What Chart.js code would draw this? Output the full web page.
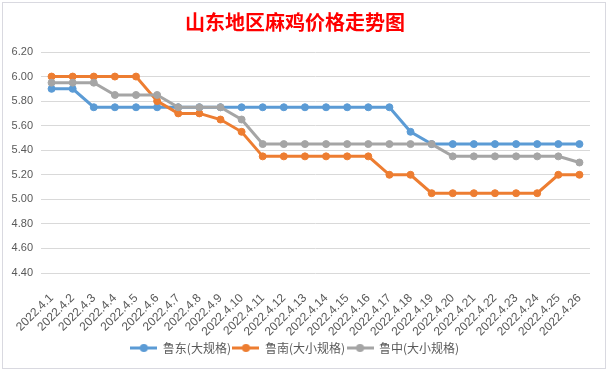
<!DOCTYPE html>
<html>
<head>
<meta charset="utf-8">
<script src="https://cdn.jsdelivr.net/npm/chart.js@4/dist/chart.umd.min.js"></script>
<style>
	body { margin: 0; background: #fff; }
	#frame { position: absolute; left: 2px; top: 2px; width: 602px; height: 365px; border: 1px solid #d9d9e0; }
	#wrap { position: absolute; left: 0; top: 0; width: 608px; height: 371px; }
</style>
</head>
<body>
<div id="frame"></div>
<div id="wrap"><canvas id="chart" width="608" height="371"></canvas></div>
<script>
const dates = [
	'2022.4.1', '2022.4.2', '2022.4.3', '2022.4.4', '2022.4.5', '2022.4.6', '2022.4.7',
	'2022.4.8', '2022.4.9', '2022.4.10', '2022.4.11', '2022.4.12', '2022.4.13',
	'2022.4.14', '2022.4.15', '2022.4.16', '2022.4.17', '2022.4.18', '2022.4.19',
	'2022.4.20', '2022.4.21', '2022.4.22', '2022.4.23', '2022.4.24', '2022.4.25', '2022.4.26'
];
const ludong = [5.90, 5.90, 5.75, 5.75, 5.75, 5.75, 5.75, 5.75, 5.75, 5.75, 5.75, 5.75, 5.75,
	5.75, 5.75, 5.75, 5.75, 5.55, 5.45, 5.45, 5.45, 5.45, 5.45, 5.45, 5.45, 5.45];
const lunan = [6.00, 6.00, 6.00, 6.00, 6.00, 5.80, 5.70, 5.70, 5.65, 5.55, 5.35, 5.35, 5.35,
	5.35, 5.35, 5.35, 5.20, 5.20, 5.05, 5.05, 5.05, 5.05, 5.05, 5.05, 5.20, 5.20];
const luzhong = [5.95, 5.95, 5.95, 5.85, 5.85, 5.85, 5.75, 5.75, 5.75, 5.65, 5.45, 5.45, 5.45,
	5.45, 5.45, 5.45, 5.45, 5.45, 5.45, 5.35, 5.35, 5.35, 5.35, 5.35, 5.35, 5.30];
const seriesNames = ['鲁东(大规格)', '鲁南(大小规格)', '鲁中(大小规格)'];
const seriesColors = ['#5b9bd5', '#ed7d31', '#a5a5a5'];
const yTicks = [4.4, 6.2, 0.2];

// legend icon: short line with a dot, like the excel legend
function legendIcon(color) {
	let c = document.createElement('canvas');
	c.width = 27;
	c.height = 10;
	let ctx = c.getContext('2d');
	ctx.strokeStyle = color;
	ctx.lineWidth = 3;
	ctx.beginPath();
	ctx.moveTo(0, 5);
	ctx.lineTo(27, 5);
	ctx.stroke();
	ctx.fillStyle = color;
	ctx.beginPath();
	ctx.arc(13.5, 5, 4, 0, Math.PI * 2);
	ctx.fill();
	return c;
}
const icons = seriesColors.map(legendIcon);

let datasets = [ludong, lunan, luzhong].map((data, i) => ({
	label: seriesNames[i],
	data: data,
	borderColor: seriesColors[i],
	backgroundColor: seriesColors[i],
	borderWidth: 3,
	pointRadius: 3.5,
	pointBorderWidth: 1,
	pointHoverRadius: 4,
	tension: 0,
	order: 2 - i,
}));

new Chart(document.getElementById('chart'), {
	type: 'line',
	data: { labels: dates, datasets: datasets },
	options: {
		responsive: false,
		animation: false,
		layout: { padding: { top: 4, right: 18, bottom: 7, left: 0 } },
		plugins: {
			title: {
				display: true,
				text: '山东地区麻鸡价格走势图',
				color: '#ff0000',
				font: { family: '"Noto Sans CJK SC"', size: 20, weight: 'bold' },
				padding: { top: 6, bottom: 18 },
			},
			legend: {
				position: 'bottom',
				labels: {
					usePointStyle: true,
					pointStyleWidth: 26,
					padding: 2,
					color: '#595959',
					font: { family: '"Noto Sans CJK SC"', size: 12 },
					sort: (a, b) => a.datasetIndex - b.datasetIndex,
					generateLabels: function(chart) {
						let items = Chart.defaults.plugins.legend.labels.generateLabels(chart);
						items.forEach(item => { item.pointStyle = icons[item.datasetIndex]; });
						return items;
					},
				},
			},
			tooltip: { enabled: false },
		},
		scales: {
			x: {
				offset: true,
				grid: { display: false },
				border: { display: false },
				ticks: {
					color: '#595959',
					font: { family: '"Liberation Sans"', size: 12 },
					minRotation: 45,
					maxRotation: 45,
					autoSkip: false,
					padding: 10,
				},
				afterFit: function(scale) { scale.height = 67; },
			},
			y: {
				min: yTicks[0],
				max: yTicks[1],
				grid: { color: '#d9d9d9', drawTicks: false },
				border: { display: false },
				ticks: {
					stepSize: yTicks[2],
					color: '#595959',
					font: { family: '"Liberation Sans"', size: 11 },
					padding: 8,
					callback: v => v.toFixed(2),
				},
				afterFit: function(scale) { scale.width = 41; },
			},
		},
	},
});
</script>
</body>
</html>
